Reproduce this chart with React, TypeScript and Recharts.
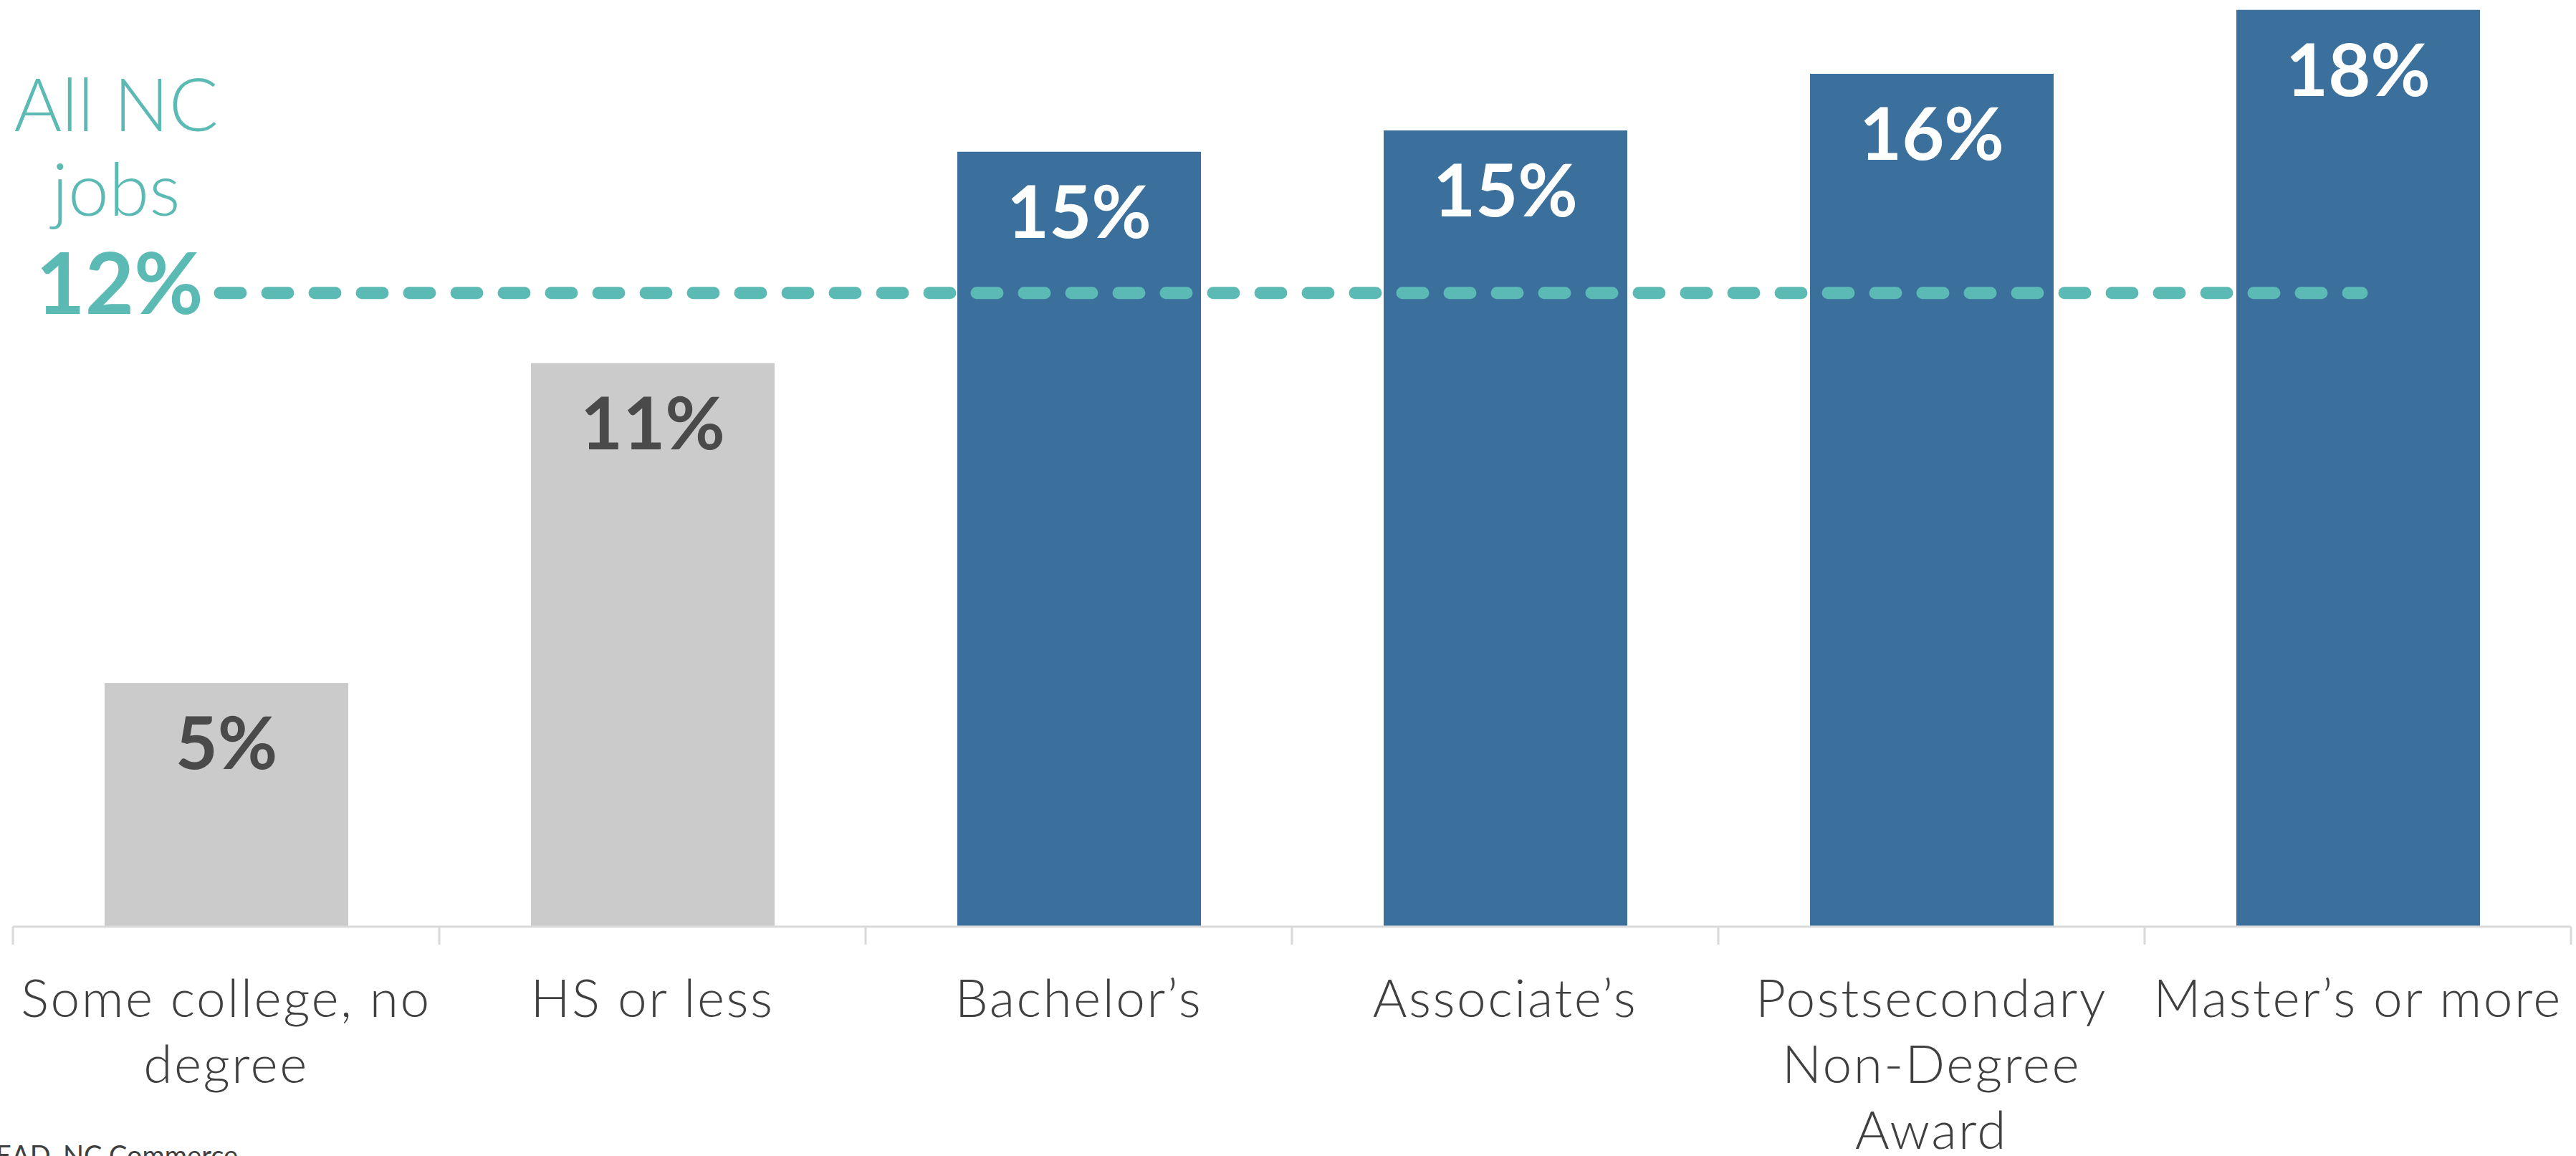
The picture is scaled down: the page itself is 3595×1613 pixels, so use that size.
import React from "react"
import { BarChart, Bar, Cell, XAxis, YAxis, LabelList, ReferenceLine } from "recharts"

const categories = [
  "Some college, no\ndegree",
  "HS or less",
  "Bachelor’s",
  "Associate’s",
  "Postsecondary\nNon-Degree\nAward",
  "Master’s or more",
]
const shares = [4.69, 10.85, 14.92, 15.33, 16.42, 17.65]
const valueLabels = ["5%", "11%", "15%", "15%", "16%", "18%"]
const groups = ["sub", "sub", "deg", "deg", "deg", "deg"]

const allNcShare = 12.2
const allNcText = ["All NC", "jobs", "12%"]
const sourceText = "EAD, NC Commerce"

const BLUE = "#3B709D"
const GRAY = "#CBCBCB"
const TEAL = "#5BBAB4"
const TEXT = "#404040"
const LABEL_FILL: Record<string, string> = { sub: "#4a4a4a", deg: "#ffffff" }

const chartData = categories.map((name, i) => ({
  name,
  value: shares[i],
  label: valueLabels[i],
  group: groups[i],
}))

const CategoryTick = (props: any) => {
  const { x, y, payload, index } = props
  const half = payload?.offset ?? 297.5
  const lines = String(payload.value).split("\n")
  const last = index === categories.length - 1
  return (
    <g>
      <line x1={x - half} y1={y} x2={x - half} y2={y + 25} stroke="#D9D9D9" strokeWidth={3} />
      {last && <line x1={x + half} y1={y} x2={x + half} y2={y + 25} stroke="#D9D9D9" strokeWidth={3} />}
      <text
        x={x}
        y={y}
        textAnchor="middle"
        fill={TEXT}
        fontFamily="Lato"
        fontWeight={300}
        fontSize={73}
        letterSpacing={2.5}
      >
        {lines.map((l, i) => (
          <tspan key={i} x={x} dy={i === 0 ? 126 : 92}>
            {l}
          </tspan>
        ))}
      </text>
    </g>
  )
}

const ValueLabel = (props: any) => {
  const { x, y, width, index } = props
  const d = chartData[index]
  return (
    <text
      x={x + width / 2}
      y={y + 120}
      textAnchor="middle"
      fill={LABEL_FILL[d.group]}
      fontFamily="Lato"
      fontWeight={700}
      fontSize={102}
    >
      {d.label}
    </text>
  )
}

const AllNcLine = (props: any) => {
  const { x1, x2, y1 } = props
  const cx = x1 + 144
  return (
    <g>
      <line
        x1={x1 + 289}
        x2={x2 - 292}
        y1={y1}
        y2={y1}
        stroke={TEAL}
        strokeWidth={17}
        strokeLinecap="round"
        strokeDasharray="29 37"
      />
      <text x={cx} y={y1 - 226} textAnchor="middle" fill={TEAL} fontFamily="Lato" fontWeight={300} fontSize={102}>
        {allNcText[0]}
      </text>
      <text x={cx} y={y1 - 108} textAnchor="middle" fill={TEAL} fontFamily="Lato" fontWeight={300} fontSize={102}>
        {allNcText[1]}
      </text>
      <text x={cx + 5} y={y1 + 29} textAnchor="middle" fill={TEAL} fontFamily="Lato" fontWeight={700} fontSize={118}>
        {allNcText[2]}
      </text>
    </g>
  )
}

export default function App() {
  return (
    <div style={{ position: "absolute", left: 0, top: 0, background: "#fff" }}>
      <BarChart
        width={3595}
        height={1613}
        data={chartData}
        margin={{ top: 3, right: 7, left: 18, bottom: 0 }}
      >
        <XAxis
          dataKey="name"
          height={320}
          axisLine={{ stroke: "#D9D9D9", strokeWidth: 3 }}
          tickLine={false}
          tickSize={0}
          tickMargin={0}
          interval={0}
          tick={<CategoryTick />}
        />
        <YAxis hide domain={[0, 17.8]} />
        <Bar dataKey="value" barSize={340} isAnimationActive={false}>
          {chartData.map((d, i) => (
            <Cell key={i} fill={d.group === "deg" ? BLUE : GRAY} />
          ))}
          <LabelList dataKey="value" content={<ValueLabel />} />
        </Bar>
        <ReferenceLine y={allNcShare} shape={<AllNcLine />} ifOverflow="visible" />
        <text x={-6} y={1626} fill={TEXT} fontFamily="Lato" fontSize={38}>
          {sourceText}
        </text>
      </BarChart>
    </div>
  )
}
